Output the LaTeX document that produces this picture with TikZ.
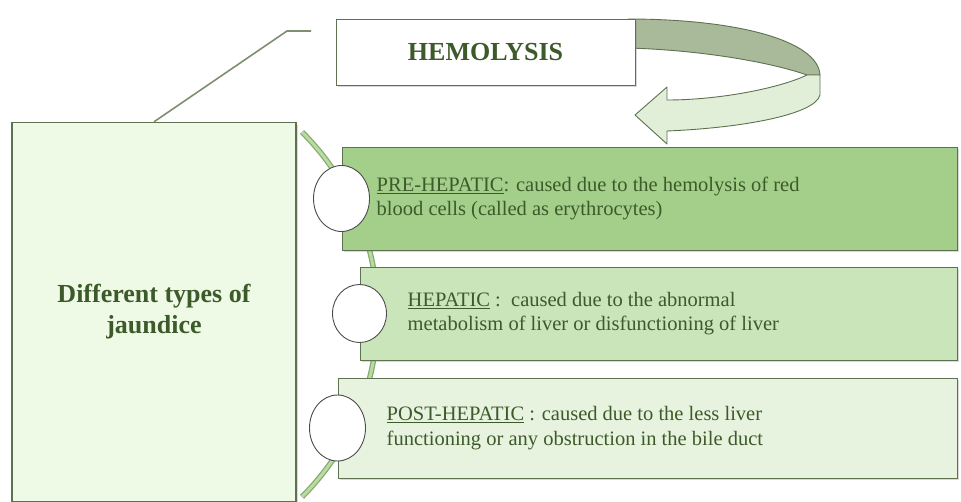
\documentclass[tikz,border=0pt]{standalone}
\usepackage{fontspec}
\setmainfont{Liberation Serif}
\usepackage{tikz}
\usetikzlibrary{positioning,shapes.geometric,shadows}

\definecolor{edgegray}{HTML}{5E7150}
\definecolor{txtgreen}{HTML}{3D5A2A}
\definecolor{paleg}{HTML}{EEFAE5}
\definecolor{preg}{HTML}{A3CF8A}
\definecolor{hepg}{HTML}{CBE5BA}
\definecolor{postg}{HTML}{E7F3DF}
\definecolor{ringdark}{HTML}{A9BA9A}
\definecolor{ringlight}{HTML}{E2EFD8}
\definecolor{arcg}{HTML}{B8DCA0}
\definecolor{arcedge}{HTML}{86A96F}

\begin{document}
\begin{tikzpicture}[
  x=1pt, y=-1pt,
  bx/.style={draw=edgegray, line width=1pt, rectangle, inner sep=0pt,
    drop shadow={shadow xshift=2pt, shadow yshift=-2pt, opacity=0.3}},
  lbl/.style={text=txtgreen, align=left, inner sep=0pt, font=\fontsize{20.5}{24.5}\selectfont},
  big/.style={text=txtgreen, align=center, font=\fontsize{26}{31}\selectfont\bfseries},
  dot/.style={ellipse, draw=black!70, line width=0.9pt, fill=white, minimum width=56pt, minimum height=66pt},
  ring/.style={draw=edgegray, line width=0.9pt, line join=round}
]
\useasboundingbox (0,0) rectangle (961,501);

% green arc behind the three types
\coordinate (arctop) at (302,132);
\draw[line width=5.5pt, arcedge] (arctop) arc[start angle=-45, end angle=45, radius=258];
\draw[line width=3pt, arcg] (arctop) arc[start angle=-45, end angle=45, radius=258];

% curved arrow from hemolysis
\fill[ringdark, ring] (628,19) .. controls (735,19) and (818,40) .. (820,75)
  -- (807,75) .. controls (770,62) and (700,50) .. (628,48) -- cycle;
\fill[ringlight, ring] (807,75) -- (820,75) -- (820,95)
  .. controls (815,115) and (740,128) .. (667,131) -- (667,144) -- (635,115)
  -- (667,87) -- (667,100) .. controls (720,100) and (780,88) .. (807,75) -- cycle;

\node[bx, fill=white, minimum width=299pt, minimum height=66pt, big] (hemo) at (485.5,52) {HEMOLYSIS};
\node[bx, fill=paleg, line width=1.4pt, minimum width=284pt, minimum height=379pt, big] (jaund) at (154,312) {Different types of\\jaundice};

\node[bx, fill=preg, minimum width=615pt, minimum height=103pt] (pre) at (649.5,198.5) {};
\node[bx, fill=hepg, minimum width=597pt, minimum height=93pt] (hep) at (658.5,313.5) {};
\node[bx, fill=postg, minimum width=619pt, minimum height=100pt] (post) at (647.5,428) {};

\node[lbl, right=35pt of pre.west] (pretxt) {\underline{PRE-HEPATIC}: caused due to the hemolysis of red\\blood cells (called as erythrocytes)};
\node[lbl, right=48pt of hep.west] (heptxt) {\underline{HEPATIC} :\ \ caused due to the abnormal\\metabolism of liver or disfunctioning of liver};
\node[lbl, right=49pt of post.west] (posttxt) {\underline{POST-HEPATIC} : caused due to the less liver\\functioning or any obstruction in the bile duct};

\node[dot] (c1) at (pre.west) {};
\node[dot, minimum width=54pt, minimum height=58pt] (c2) at (hep.west) {};
\node[dot] (c3) at (post.west) {};

% loose leader line
\coordinate (bend) at (287,31);
\coordinate (lend) at (311,31);
\draw[edgegray!80, line width=1.6pt] (jaund.north) -- (bend) -- (lend);
\end{tikzpicture}
\end{document}
